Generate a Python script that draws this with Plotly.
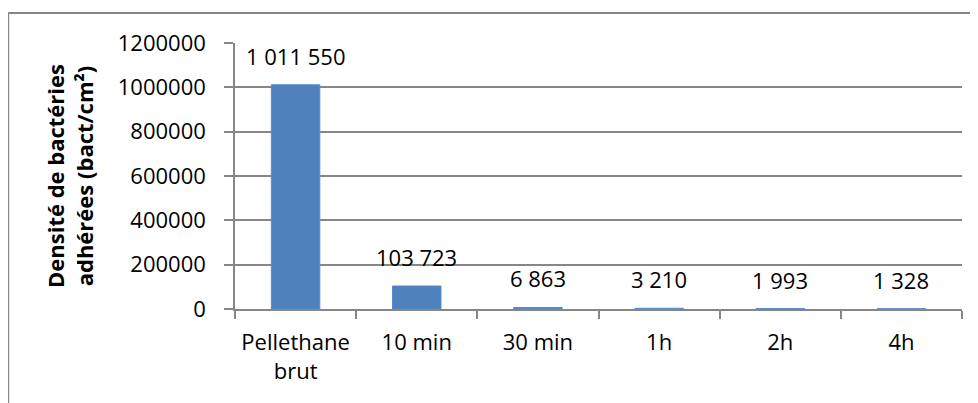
import plotly.graph_objs as go

categories = ["Pellethane<br>brut", "10 min", "30 min", "1h", "2h", "4h"]
densite = [1011550, 103723, 6863, 3210, 1993, 1328]
y_ticks = [0, 200000, 400000, 600000, 800000, 1000000, 1200000]

font = "Open Sans"
grid = "#878787"


def fr_number(v):
    # french style thousands separator
    return f"{v:,}".replace(",", " ")


fig = go.Figure()
fig.add_trace(go.Bar(
    x=categories, y=densite,
    marker=dict(color="#4F81BD", line=dict(color="#5A8AC4", width=1)),
    width=0.4,
))

# data labels sit a bit above the bars, like Excel does
for c, v in zip(categories, densite):
    fig.add_annotation(x=c, y=v, text=fr_number(v), showarrow=False,
                       yanchor="bottom", yshift=12,
                       font=dict(family=font, size=22, color="black"))

fig.update_layout(
    width=978, height=403,
    margin=dict(l=227, r=24, t=35, b=102, autoexpand=False),
    paper_bgcolor="white", plot_bgcolor="white",
    showlegend=False,
    font=dict(family=font, size=22, color="black"),
    xaxis=dict(
        showline=True, linecolor=grid, linewidth=1.5,
        ticks="outside", ticklen=8, tickcolor=grid, tickwidth=1.5,
        tickson="boundaries", showgrid=False,
        tickfont=dict(family=font, size=22),
        ticklabelstandoff=13,
    ),
    yaxis=dict(
        range=[0, 1200000], tickvals=y_ticks,
        ticktext=[str(t) for t in y_ticks],
        showline=True, linecolor=grid, linewidth=1.5,
        ticks="outside", ticklen=9, tickcolor=grid, tickwidth=1.5,
        showgrid=True, gridcolor=grid, gridwidth=1.5,
        zeroline=False,
        tickfont=dict(family=font, size=22),
        ticklabelstandoff=14,
        title=dict(text="<b>Densité de bactéries<br>adhérées (bact/cm²)</b>",
                   font=dict(family=font, size=22), standoff=18),
    ),
)

# outer chart border (top and left visible, the rest is cut off)
fig.add_shape(type="line", xref="paper", yref="paper",
              x0=-0.312, x1=1.2, y0=1.113, y1=1.113,
              line=dict(color="#868686", width=2))
fig.add_shape(type="line", xref="paper", yref="paper",
              x0=-0.312, x1=-0.312, y0=1.113, y1=-0.5,
              line=dict(color="#868686", width=2))

fig.write_html("out.html")
